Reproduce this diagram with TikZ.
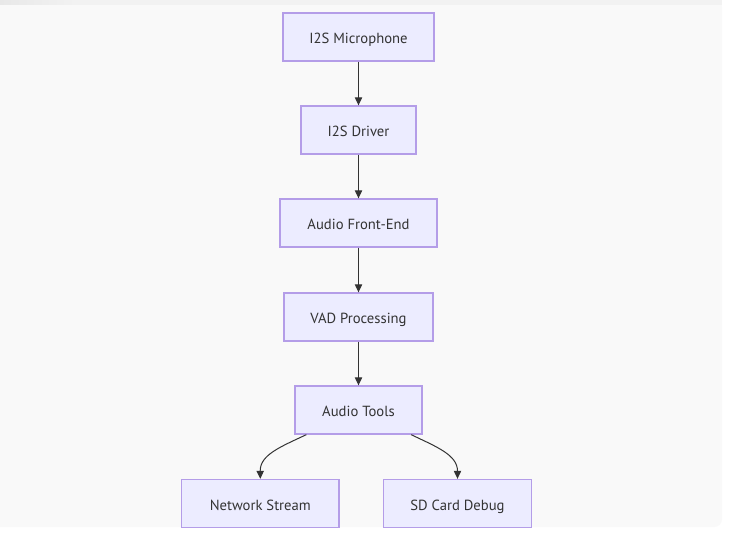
\documentclass[tikz,border=0pt]{standalone}
\usepackage{fontspec}
\setmainfont{PT Sans}
\usetikzlibrary{arrows.meta,calc}
\definecolor{panel}{HTML}{F9F9F9}
\definecolor{strip}{HTML}{F2F2F2}
\definecolor{nodefill}{HTML}{ECECFF}
\definecolor{nodeline}{HTML}{B49DE8}
\definecolor{ink}{HTML}{333333}
\tikzset{
  box/.style={draw=nodeline, fill=nodefill, line width=1pt, inner sep=0pt,
    minimum height=36pt, text height=10pt, text depth=0pt, text=ink,
    font=\fontsize{11pt}{13pt}\selectfont},
  flow/.style={draw=ink, line width=0.75pt, -{Triangle[length=6pt,width=5.5pt]}}
}
\begin{document}
\begin{tikzpicture}[x=0.75pt,y=-0.75pt]
\useasboundingbox (0,0) rectangle (731,535);
\fill[white] (0,0) rectangle (731,535);
\fill[panel, rounded corners=6pt] (-20,0) rectangle (722,527);
\fill[panel] (-20,0) rectangle (722,20);
\fill[strip] (0,0) rectangle (722,5);
\fill[left color=black!9, right color=strip] (0,0) rectangle (75,5);

\node[box, minimum width=113.25pt] (mic) at (358.5,37) {I2S Microphone};
\node[box, minimum width=86.25pt] (drv) at (358.5,130) {I2S Driver};
\node[box, minimum width=117.75pt] (afe) at (358.5,223) {Audio Front-End};
\node[box, minimum width=111.75pt] (vad) at (358.5,317) {VAD Processing};
\node[box, minimum width=95.25pt] (tools) at (358.5,410) {Audio Tools};
\node[box, minimum width=118pt] (net) at (260.3,503.5) {Network Stream};
\node[box, minimum width=111.3pt] (sd) at (457.5,503.5) {SD Card Debug};

\draw[flow] (mic) -- (drv);
\draw[flow] (drv) -- (afe);
\draw[flow] (afe) -- (vad);
\draw[flow] (vad) -- (tools);
\draw[flow] ($(tools.south west)+(12,0)$) .. controls (280,447) and (260,455) .. (net.north);
\draw[flow] ($(tools.south east)+(-11.5,0)$) .. controls (437,447) and (457.5,455) .. (sd.north);
\end{tikzpicture}
\end{document}
